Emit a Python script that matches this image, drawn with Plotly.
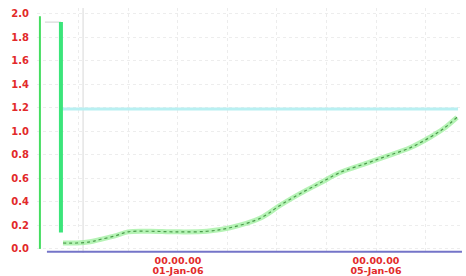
import plotly.graph_objects as go

# ---- data ----
curve_times = ["2005-12-29 16:15", "2005-12-29 23:00", "2005-12-30 05:20", "2005-12-30 10:10",
               "2005-12-30 17:27", "2005-12-30 23:45", "2005-12-31 10:25", "2005-12-31 22:33",
               "2006-01-01 14:04", "2006-01-02 01:13", "2006-01-02 15:46", "2006-01-03 01:27",
               "2006-01-03 11:09", "2006-01-03 20:51", "2006-01-04 06:33", "2006-01-04 19:38",
               "2006-01-05 05:20", "2006-01-05 16:29", "2006-01-06 02:11", "2006-01-06 08:30",
               "2006-01-06 15:16"]
curve_values = [0.05, 0.05, 0.06, 0.08, 0.11, 0.145, 0.15, 0.145, 0.15, 0.18, 0.26, 0.37,
                0.47, 0.56, 0.65, 0.73, 0.79, 0.86, 0.95, 1.02, 1.12]

thin_spike_times = ["2005-12-29 05:05", "2005-12-29 05:05"]
thin_spike_values = [0.0, 1.98]

thick_spike_times = ["2005-12-29 07:30", "2005-12-29 15:16", "2005-12-29 15:16"]
thick_spike_values = [1.93, 1.93, 0.14]

limit_times = ["2005-12-29 14:30", "2006-01-06 15:46"]
limit_values = [1.19, 1.19]

base_times = ["2005-12-29 08:29", "2006-01-06 17:40"]
base_values = [-0.024, -0.024]

marker_times = ["2005-12-30 02:00", "2005-12-30 02:00"]
marker_values = [-0.035, 2.05]

y_ticks = [0.0, 0.2, 0.4, 0.6, 0.8, 1.0, 1.2, 1.4, 1.6, 1.8, 2.0]
x_tickvals = ["2006-01-01 00:00", "2006-01-05 00:00"]
x_time_text = ["00.00.00", "00.00.00"]
x_date_text = ["01-Jan-06", "05-Jan-06"]

RED = "#e22a2a"
FONT = "DejaVu Sans, Verdana, sans-serif"
X_RANGE = ["2005-12-29 03:40", "2006-01-06 17:41"]

fig = go.Figure()
fig.add_trace(go.Scatter(x=marker_times, y=marker_values, mode="lines",
                         line=dict(color="#d8d8d8", width=1), hoverinfo="skip"))
fig.add_trace(go.Scatter(x=limit_times, y=limit_values, mode="lines",
                         line=dict(color="#b8f0f2", width=3)))
fig.add_trace(go.Scatter(x=base_times, y=base_values, mode="lines",
                         line=dict(color="#7474c8", width=2)))
fig.add_trace(go.Scatter(x=thin_spike_times, y=thin_spike_values, mode="lines",
                         line=dict(color="#45dd60", width=2)))
fig.add_trace(go.Scatter(x=thick_spike_times[:2], y=thick_spike_values[:2], mode="lines",
                         line=dict(color="#d0d0d0", width=1)))
fig.add_trace(go.Scatter(x=thick_spike_times[1:], y=thick_spike_values[1:], mode="lines",
                         line=dict(color="#3be57a", width=4)))
fig.add_trace(go.Scatter(x=curve_times, y=curve_values, mode="lines",
                         line=dict(color="rgba(150,238,150,0.7)", width=5, shape="spline")))
fig.add_trace(go.Scatter(x=curve_times, y=curve_values, mode="lines",
                         line=dict(color="#4a9a4a", width=1.2, dash="dot", shape="spline")))
# invisible trace carrying the second label row axis
fig.add_trace(go.Scatter(x=x_tickvals, y=[None, None], xaxis="x2", mode="lines",
                         hoverinfo="skip", showlegend=False))

fig.update_layout(
    width=466, height=276,
    margin=dict(l=37, r=4, t=8, b=23),
    paper_bgcolor="white", plot_bgcolor="white",
    showlegend=False,
    font=dict(family=FONT),
    xaxis=dict(
        type="date", automargin=False, range=X_RANGE,
        tickvals=x_tickvals, ticktext=x_time_text,
        tickfont=dict(color=RED, size=9.5, weight="bold", family=FONT),
        showgrid=False, zeroline=False, showline=False,
        ticks="", ticklabelstandoff=0,
        minor=dict(dtick=86400000, showgrid=True, gridcolor="#ececec", griddash="dot", gridwidth=1),
    ),
    xaxis2=dict(
        type="date", overlaying="x", anchor="y", side="bottom", range=X_RANGE,
        automargin=False, tickvals=x_tickvals, ticktext=x_date_text,
        tickfont=dict(color=RED, size=9.5, weight="bold", family=FONT),
        showgrid=False, zeroline=False, showline=False, ticks="",
        ticklabelstandoff=10,
    ),
    yaxis=dict(
        range=[-0.035, 2.05], automargin=False,
        tickvals=y_ticks, tickformat=".1f",
        tickfont=dict(color=RED, size=10, weight="bold", family=FONT),
        showgrid=True, gridcolor="#ededed", griddash="dot",
        zeroline=False, showline=False, ticks="",
        ticklabelstandoff=7,
    ),
)

fig.write_html("out.html", config={"displayModeBar": False},
               post_script="document.body.style.margin='0';document.body.style.overflow='hidden';")
